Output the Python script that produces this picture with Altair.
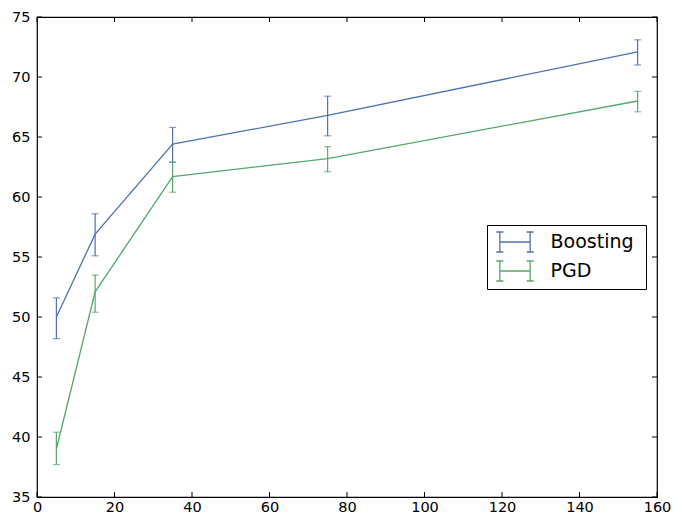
import altair as alt
import pandas as pd

series_names = ["Boosting", "PGD"]
x_vals = [5, 15, 35, 75, 155]
boost_y = [50.0, 56.9, 64.4, 66.8, 72.1]
boost_lo = [48.2, 55.1, 62.9, 65.1, 71.0]
boost_hi = [51.6, 58.6, 65.8, 68.4, 73.1]
pgd_y = [39.0, 52.1, 61.7, 63.2, 68.0]
pgd_lo = [37.7, 50.4, 60.4, 62.1, 67.1]
pgd_hi = [40.4, 53.5, 62.9, 64.2, 68.8]
colors = ["#4C72B0", "#55A868"]
x_ticks = [0, 20, 40, 60, 80, 100, 120, 140, 160]
y_ticks = [35, 40, 45, 50, 55, 60, 65, 70, 75]

rows = []
for name, ys, los, his in [("Boosting", boost_y, boost_lo, boost_hi),
                           ("PGD", pgd_y, pgd_lo, pgd_hi)]:
    for x, y, lo, hi in zip(x_vals, ys, los, his):
        rows.append({"series": name, "x": x, "y": y, "lo": lo, "hi": hi})
df = pd.DataFrame(rows)

W, H = 620, 480
FONT = "DejaVu Sans"

xscale = alt.Scale(domain=[0, 160], nice=False, zero=False)
yscale = alt.Scale(domain=[35, 75], nice=False, zero=False)

LEG_PATH = ("M-1.7,-0.91L-1.06,-0.91M-1.38,-0.91L-1.38,0.91M-1.7,0.91L-1.06,0.91"
            "M1.06,-0.91L1.7,-0.91M1.38,-0.91L1.38,0.91M1.06,0.91L1.7,0.91"
            "M-1.38,0L1.38,0")

color_legend = alt.Color(
    "series:N",
    scale=alt.Scale(domain=series_names, range=colors),
    legend=alt.Legend(
        title="\u00a0", titleOrient="right", titleFontSize=2, titlePadding=7,
        orient="none", legendX=450, legendY=208,
        symbolType=LEG_PATH, symbolSize=484, symbolStrokeWidth=1.3,
        symbolFillColor="transparent", symbolOffset=11,
        labelFont=FONT, labelFontSize=19, labelColor="black", labelOffset=23.5,
        rowPadding=3, padding=5, strokeColor="black", fillColor="white",
        cornerRadius=0, labelLimit=300,
    ),
)
color_nolegend = alt.Color("series:N",
                           scale=alt.Scale(domain=series_names, range=colors),
                           legend=None)

base = alt.Chart(df)

lines = base.mark_line(strokeWidth=1.3).encode(
    x=alt.X("x:Q", scale=xscale,
            axis=alt.Axis(values=x_ticks, ticks=False, domain=False, grid=False,
                          title=None, labelFont=FONT, labelFontSize=14.5,
                          labelColor="black", labelPadding=3, labelFlush=False)),
    y=alt.Y("y:Q", scale=yscale,
            axis=alt.Axis(values=y_ticks, ticks=False, domain=False, grid=False,
                          title=None, labelFont=FONT, labelFontSize=14.5,
                          labelColor="black", labelPadding=7, labelFlush=False)),
    color=color_legend,
)

err = base.mark_rule(strokeWidth=1.2).encode(
    x="x:Q", y="lo:Q", y2="hi:Q", color=color_nolegend)
cap_lo = base.mark_tick(orient="horizontal", size=7, thickness=1.2).encode(
    x="x:Q", y="lo:Q", color=color_nolegend)
cap_hi = base.mark_tick(orient="horizontal", size=7, thickness=1.2).encode(
    x="x:Q", y="hi:Q", color=color_nolegend)

xt = pd.DataFrame({"t": x_ticks})
yt = pd.DataFrame({"t": y_ticks})
TL = 5
tick_bottom = alt.Chart(xt).mark_rule(color="black", strokeWidth=1).encode(
    x="t:Q", y=alt.value(H), y2=alt.value(H - TL))
tick_top = alt.Chart(xt).mark_rule(color="black", strokeWidth=1).encode(
    x="t:Q", y=alt.value(0), y2=alt.value(TL))
tick_left = alt.Chart(yt).mark_rule(color="black", strokeWidth=1).encode(
    y="t:Q", x=alt.value(0), x2=alt.value(TL))
tick_right = alt.Chart(yt).mark_rule(color="black", strokeWidth=1).encode(
    y="t:Q", x=alt.value(W), x2=alt.value(W - TL))

chart = alt.layer(
    tick_bottom, tick_top, tick_left, tick_right,
    lines, err, cap_lo, cap_hi,
).properties(
    width=W, height=H,
    autosize=alt.AutoSizeParams(type="none"),
    padding={"left": 29, "top": 9, "right": 17, "bottom": 30},
    background="white",
).configure_view(
    stroke="black", strokeWidth=1.2,
)

chart.save("out.html", embed_options={"renderer": "svg", "actions": False})
